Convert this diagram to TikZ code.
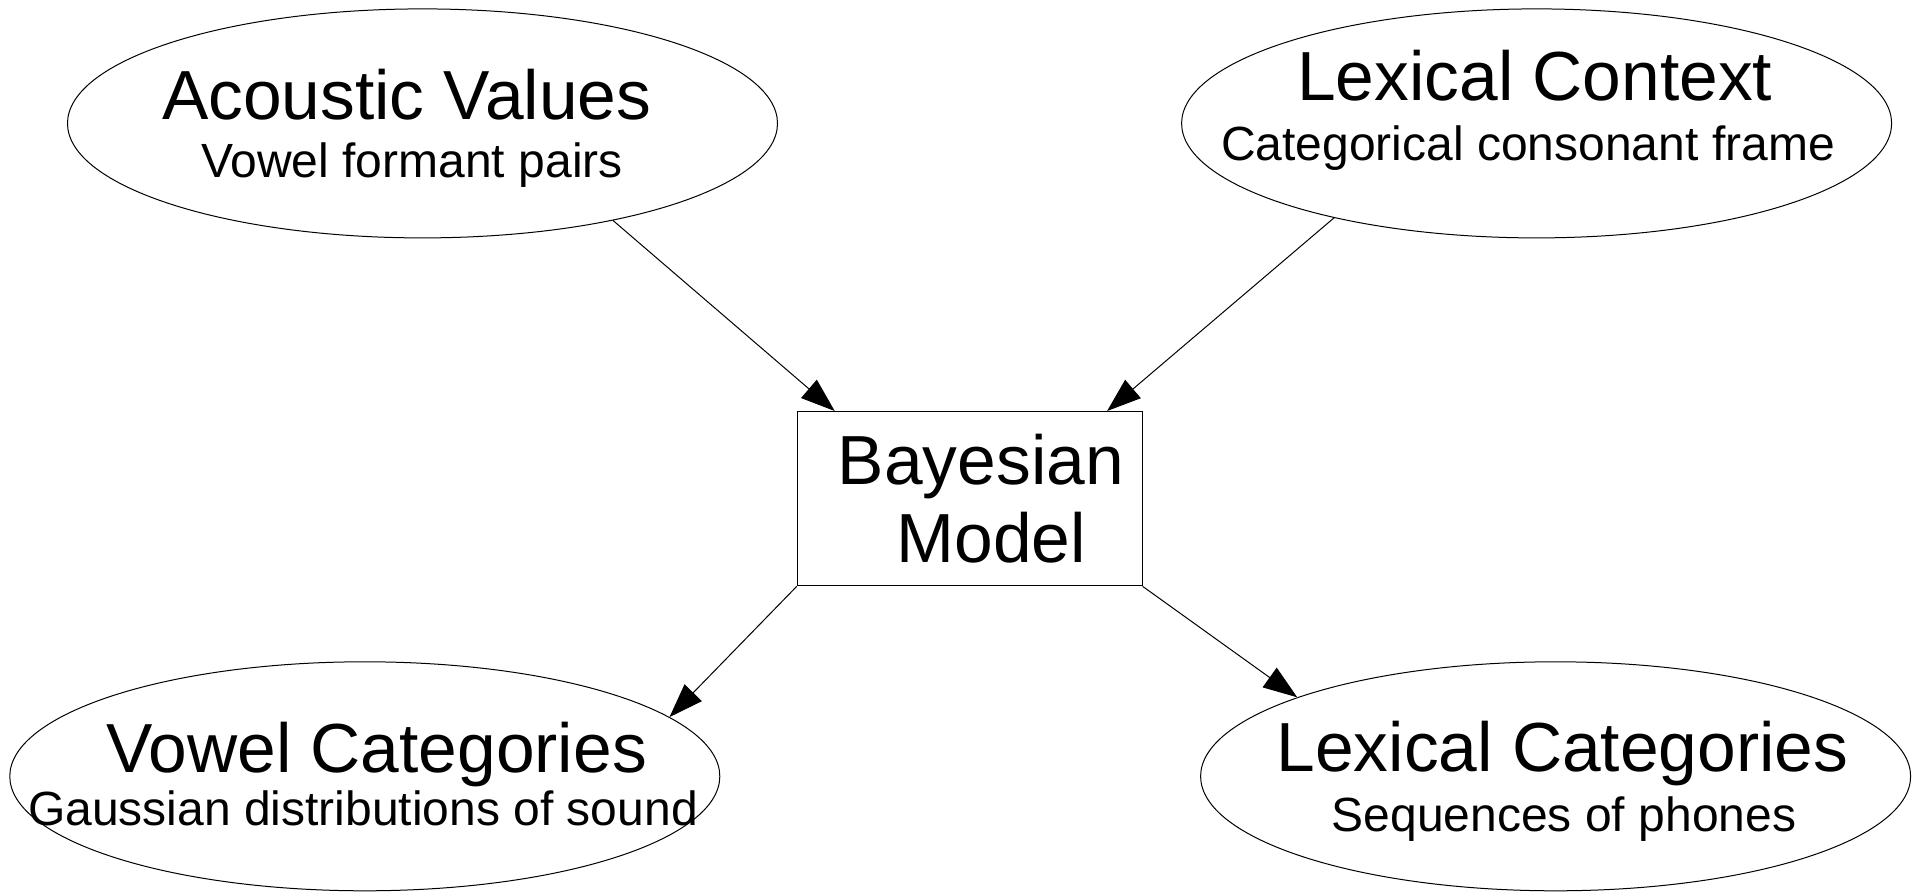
\documentclass[tikz,border=0pt]{standalone}
\usepackage{fontspec}
\setmainfont{Liberation Sans}
\usetikzlibrary{shapes.geometric,arrows.meta}
\begin{document}
\begin{tikzpicture}[x=1pt,y=-1pt,
  bubble/.style={draw, ellipse, line width=1pt, minimum width=710pt, minimum height=229pt, inner sep=0pt},
  modelbox/.style={draw, rectangle, line width=1pt, minimum width=345pt, minimum height=174.4pt, inner sep=0pt},
  ttl/.style={anchor=base, inner sep=0pt, font=\fontsize{69.5}{80}\selectfont},
  subttl/.style={anchor=base, inner sep=0pt, font=\fontsize{48}{56}\selectfont},
  arr/.style={line width=1pt, -{Triangle[length=34pt,width=24pt]}}]
\useasboundingbox (0,0) rectangle (1926,891);
% shapes
\node[bubble] (av) at (422.5,123.4) {};
\node[bubble] (lc) at (1536.6,123.4) {};
\node[modelbox] (bm) at (969.7,498.7) {};
\node[bubble] (vc) at (364.8,776.3) {};
\node[bubble] (lx) at (1555.6,776.3) {};
% texts
\node[ttl] (avT) at (406.7,119.3) {Acoustic Values};
\node[subttl] (avS) at (412,177) {Vowel formant pairs};
\node[ttl] (lcT) at (1534.8,100.7) {Lexical Context};
\node[subttl] (lcS) at (1528,160) {Categorical consonant frame};
\node[ttl] (bmT) at (980.9,484) {Bayesian};
\node[ttl] (bmS) at (991.2,562.7) {Model};
\node[ttl] (vcT) at (376.5,772.7) {Vowel Categories};
\node[subttl] (vcS) at (363,825) {Gaussian distributions of sound};
\node[ttl] (lxT) at (1562.4,771.7) {Lexical Categories};
\node[subttl] (lxS) at (1564,831.5) {Sequences of phones};
% connectors
\draw[arr] (av.-27.9) -- ([xshift=38pt]bm.north west);
\draw[arr] (lc.205.9) -- ([xshift=-35.6pt]bm.north east);
\draw[arr] (bm.south west) -- (vc.11.3);
\draw[arr] (bm.south east) -- (lx.163.2);
\end{tikzpicture}
\end{document}
